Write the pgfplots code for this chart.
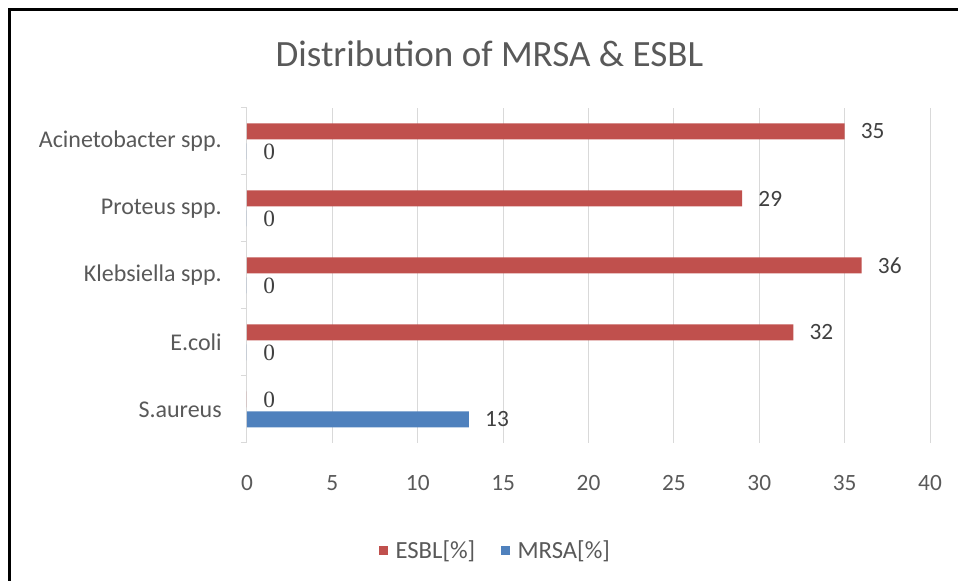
\documentclass[border=0pt]{standalone}
\usepackage{pgfplots}
\pgfplotsset{compat=1.18}
\usepackage{fontspec}
\setmainfont{Carlito}
\newfontfamily\zerofont{Liberation Serif}
\definecolor{esbl}{HTML}{C0504D}
\definecolor{mrsa}{HTML}{4F81BD}
\definecolor{txt}{HTML}{595959}
\definecolor{lab}{HTML}{404040}
\definecolor{grd}{HTML}{D9D9D9}
\begin{document}
\begin{tikzpicture}
\path[use as bounding box] (0pt,0pt) rectangle (718.5pt,435.75pt);
\draw[line width=2pt,black] (6.975pt,-2pt) -- (6.975pt,428.8pt) -- (720pt,428.8pt);
\begin{axis}[
 at={(185.25pt,103.5pt)}, anchor=south west,
 scale only axis, width=512.25pt, height=251.25pt,
 xbar, bar width=12pt,
 xmin=0, xmax=40, ymin=-0.5, ymax=4.5,
 xtick={0,5,...,40},
 ytick={0,...,4},
 yticklabels={S.aureus,E.coli,Klebsiella spp.,Proteus spp.,Acinetobacter spp.},
 minor ytick={-0.5,0.5,...,4.5},
 xmajorgrids, major grid style={grd, line width=0.75pt},
 axis y line*=left, axis x line*=bottom,
 x axis line style={draw=none},
 y axis line style={draw=grd, line width=0.75pt, -},
 xtick style={draw=none},
 ytick style={draw=none},
 minor y tick style={draw=grd, line width=0.75pt},
 tick align=outside, major tick length=0pt, minor tick length=4.5pt,
 /pgf/number format/assume math mode=true,
 xticklabel style={font=\fontsize{17.5}{21}\selectfont, text=txt, anchor=center, yshift=-30pt},
 yticklabel style={font=\fontsize{18}{21}\selectfont, text=txt, anchor=east, inner sep=0pt, xshift=-18.75pt},
 title={Distribution of MRSA \& ESBL},
 title style={at={(axis description cs:0.355,1.138)}, anchor=center, font=\fontsize{27.8}{33}\selectfont, text=txt},
 legend style={at={(axis description cs:0.364,-0.322)}, anchor=center, draw=none, legend columns=2,
   font=\fontsize{18.5}{21}\selectfont, text=txt,
   /tikz/every odd column/.append style={column sep=4pt},
   /tikz/every even column/.append style={column sep=17pt}},
 nodes near coords={\pgfmathfloatifflags{\pgfplotspointmeta}{0}{{\zerofont 0}}{\pgfmathprintnumber{\pgfplotspointmeta}}},
 every node near coord/.append style={anchor=west, inner sep=0pt, xshift=12pt, font=\fontsize{17.5}{21}\selectfont, text=lab},
]
\addplot[draw=none, fill=esbl, bar shift=7.5pt,
  legend image code/.code={\fill[esbl] (0pt,-3.4pt) rectangle (6.75pt,3.4pt);}]
  coordinates {(0,0) (32,1) (36,2) (29,3) (35,4)};
\addplot[draw=none, fill=mrsa, bar shift=-7.5pt,
  legend image code/.code={\fill[mrsa] (0pt,-3.4pt) rectangle (6.75pt,3.4pt);}]
  coordinates {(13,0) (0,1) (0,2) (0,3) (0,4)};
\legend{ESBL[\%], MRSA[\%]}
\end{axis}
\end{tikzpicture}
\end{document}
